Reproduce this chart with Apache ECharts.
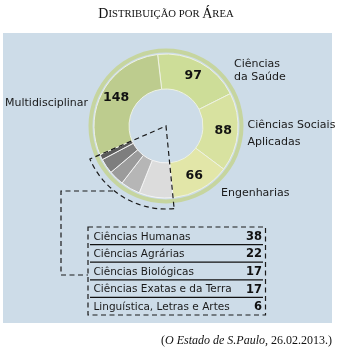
<!DOCTYPE html>
<html>
<head>
<meta charset="utf-8">
<script src="https://cdn.jsdelivr.net/npm/echarts@6/dist/echarts.min.js"></script>
<style>html,body{margin:0;padding:0;background:#fff}#c{width:337px;height:353px}</style>
</head>
<body>
<div id="c"></div>
<script>
// ---- data ----
const categories = ['Ciências da Saúde','Ciências Sociais Aplicadas','Engenharias','Ciências Humanas','Ciências Agrárias','Ciências Biológicas','Ciências Exatas e da Terra','Linguística, Letras e Artes','Multidisciplinar'];
const values = [97, 88, 66, 38, 22, 17, 17, 6, 148];
const outerNames = ['Ciências\nda Saúde', 'Ciências Sociais\nAplicadas', 'Engenharias', null, null, null, null, null, 'Multidisciplinar'];
const tableIdx = [3, 4, 5, 6, 7];
const titleParts = ['D', 'ISTRIBUIÇÃO POR ', 'Á', 'REA'];
const sourceItalic = 'O Estado de S.Paulo';
const sourceRest = ', 26.02.2013.)';

// ---- styles / layout ----
const sliceColors = ['#cddd98','#d8e2a0','#e2e6a8','#dcdcdc','#b6b6b6','#9b9b9b','#7e7e7e','#5b5b5b','#bdcc8e'];
const showInside = [true,true,true,false,false,false,false,false,true];
const cx = 166, cy = 126, startAngle = 96.7;
const outerLayout = [
  {x:234, y:70.5, lh:13.5},
  {x:247.5, y:133.5, lh:16.5},
  {x:221, y:193.5, lh:13},
  null,null,null,null,null,
  {x:5, y:103, lh:13}
];
const tbl = {x0:88, y0:227, x1:265.5, rowH:17.6, textX:93.5, numX:262};

const total = values.reduce((a,b)=>a+b,0);
function screenAngle(idx){ // clockwise from 3 o'clock, degrees
  let s = 0; for (let i=0;i<idx;i++) s += values[i];
  return -startAngle + s/total*360;
}
const a0 = screenAngle(tableIdx[0]);
const a1 = screenAngle(tableIdx[tableIdx.length-1]+1);

const graphics = [];
graphics.push({type:'rect', z:0, shape:{x:3,y:33,width:329,height:290}, style:{fill:'#cddce8'}, silent:true});
// title
graphics.push({type:'text', z:10, x:166, y:14, style:{
  text:'{b|'+titleParts[0]+'}{s|'+titleParts[1]+'}{b|'+titleParts[2]+'}{s|'+titleParts[3]+'}',
  align:'center', verticalAlign:'middle',
  rich:{b:{fontFamily:'Liberation Serif',fontSize:14,fill:'#111'}, s:{fontFamily:'Liberation Serif',fontSize:10.7,fill:'#111'}}
}});
// source
graphics.push({type:'text', z:10, x:332, y:341, style:{
  text:'{n|(}{i|'+sourceItalic+'}{n|'+sourceRest+'}', align:'right', verticalAlign:'middle',
  rich:{n:{fontFamily:'Liberation Serif',fontSize:12,fill:'#111'}, i:{fontFamily:'Liberation Serif',fontSize:12,fontStyle:'italic',fill:'#111'}}
}});
// outer names
outerNames.forEach((n,i)=>{
  if(!n) return;
  const L = outerLayout[i];
  graphics.push({type:'text', z:10, x:L.x, y:L.y, style:{text:n, fontFamily:'DejaVu Sans', fontSize:11, fill:'#1a1a1a', align:'left', verticalAlign:'middle', lineHeight:L.lh}});
});
// dashed wedge
graphics.push({type:'sector', z:100, shape:{cx:cx, cy:cy, r:83, r0:0, startAngle:a0*Math.PI/180, endAngle:a1*Math.PI/180, clockwise:true},
  style:{fill:null, stroke:'#1a1a1a', lineWidth:1.2, lineDash:[5,3.5]}, silent:true});
// connector
graphics.push({type:'polyline', z:100, shape:{points:[[113,191],[61,191],[61,275],[tbl.x0,275]]},
  style:{fill:null, stroke:'#1a1a1a', lineWidth:1.2, lineDash:[5,3.5]}, silent:true});
// table box
const nRows = tableIdx.length;
graphics.push({type:'rect', z:100, shape:{x:tbl.x0, y:tbl.y0, width:tbl.x1-tbl.x0, height:tbl.rowH*nRows},
  style:{fill:null, stroke:'#1a1a1a', lineWidth:1.2, lineDash:[5,3.5]}, silent:true});
tableIdx.forEach((idx,r)=>{
  const yc = tbl.y0 + tbl.rowH*(r+0.5) + 1;
  graphics.push({type:'text', z:100, x:tbl.textX, y:yc, style:{text:categories[idx], fontFamily:'DejaVu Sans', fontSize:10.5, fill:'#1a1a1a', align:'left', verticalAlign:'middle'}});
  graphics.push({type:'text', z:100, x:tbl.numX, y:yc, style:{text:String(values[idx]), fontFamily:'DejaVu Sans', fontWeight:'bold', fontSize:11.5, fill:'#111', align:'right', verticalAlign:'middle'}});
  if (r < nRows-1) {
    const yl = tbl.y0 + tbl.rowH*(r+1);
    graphics.push({type:'line', z:100, shape:{x1:90, y1:yl, x2:263, y2:yl}, style:{stroke:'#111', lineWidth:1.3}});
  }
});

const chart = echarts.init(document.getElementById('c'), null, {renderer:'canvas'});
chart.setOption({
  animation:false,
  graphic:{elements:graphics},
  series:[
    {type:'pie', silent:true, center:[cx,cy], radius:[73.5,77.5], z:2,
     label:{show:false}, labelLine:{show:false}, emphasis:{disabled:true},
     itemStyle:{color:'#c6d59f'}, data:[{value:1}]},
    {type:'pie', silent:true, center:[cx,cy], radius:[37,72], startAngle:startAngle, clockwise:true, z:3,
     emphasis:{disabled:true}, labelLine:{show:false},
     itemStyle:{borderColor:'#eef2e2', borderWidth:1},
     data: values.map((v,i)=>({name:categories[i], value:v, itemStyle:{color:sliceColors[i], borderColor: i>=3&&i<=7 ? '#f4f4f4' : '#eef2e2'},
       label:{show:showInside[i], position:'inside', formatter:'{c}', fontFamily:'DejaVu Sans', fontWeight:'bold', fontSize:12.5, color:'#111'}}))
    }
  ]
});
</script>
</body>
</html>
